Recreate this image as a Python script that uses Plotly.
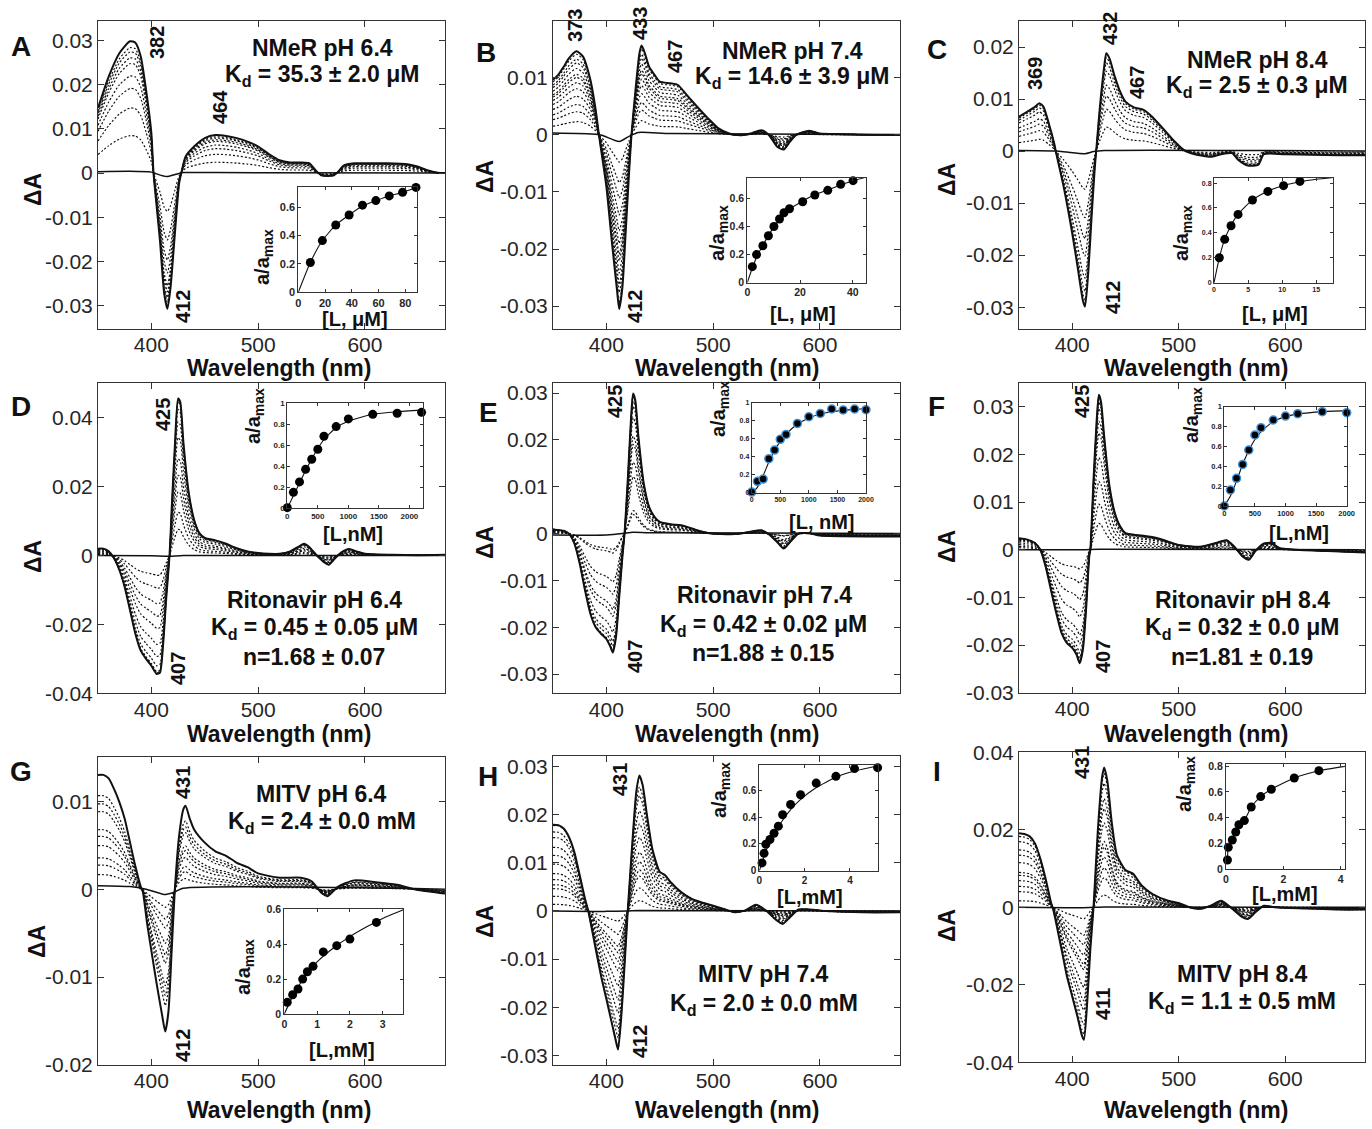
import plotly.graph_objects as go

W, H = 1372, 1129
FONT = "Liberation Sans, Arial, Helvetica, sans-serif"
INK = "#111111"

# ---------------- DATA ----------------
# Panel A: NMeR pH 6.4 (final difference spectrum)
A_wl = [350, 360, 370, 380, 385, 390, 395, 400, 402, 408, 412, 415, 418, 422, 426, 428, 432, 440, 450, 460,
        470, 480, 490, 500, 510, 520, 530, 540, 548, 555, 560, 570, 575, 580, 590, 600, 620, 640, 650, 660, 670, 675]
A_dA = [0.0147, 0.0218, 0.0271, 0.0298, 0.0295, 0.0264, 0.0188, 0.009, 0.0, -0.0152, -0.0273, -0.0307, -0.0258,
        -0.0137, -0.0023, 0.0, 0.0037, 0.006, 0.0079, 0.0086, 0.0084, 0.0079, 0.0071, 0.006, 0.0043, 0.0029,
        0.0024, 0.0024, 0.0022, 0.0003, -0.0006, -0.0006, 0.0003, 0.0017, 0.0022, 0.0022, 0.0022, 0.002,
        0.0014, 0.0005, 0.0, 0.0]
A_base_wl = [350, 380, 400, 405, 414, 424, 430, 460, 675]
A_base = [0.0003, 0.0004, 0.0002, -0.0002, -0.0008, -0.0002, 0.0001, 0.0001, 0.0]
A_L = [9, 18, 28, 38, 48, 58, 68, 78, 88]
A_frac = [0.21, 0.365, 0.475, 0.545, 0.615, 0.647, 0.68, 0.705, 0.74]
A_fit_L = [0, 9, 18, 28, 38, 48, 58, 68, 78, 88]
A_fit = [0, 0.21, 0.365, 0.475, 0.545, 0.61, 0.647, 0.68, 0.705, 0.74]

# Panel B: NMeR pH 7.4
B_wl = [350, 355, 360, 365, 372, 378, 385, 390, 393, 400, 405, 410, 412, 415, 418, 421, 423.5, 427, 431, 433,
        436, 440, 445, 450, 460, 467, 475, 485, 495, 505, 515, 525, 535, 545, 552, 560, 566, 572, 578, 590,
        600, 620, 650, 675]
B_dA = [0.0096, 0.0105, 0.0119, 0.0134, 0.0146, 0.0137, 0.0096, 0.0043, 0.0, -0.0091, -0.0185, -0.0273,
        -0.0305, -0.0267, -0.0173, -0.0074, 0.0, 0.0073, 0.0143, 0.0156, 0.0143, 0.0119, 0.0105, 0.0093,
        0.009, 0.0087, 0.007, 0.0049, 0.0029, 0.0011, 0.0002, -0.0001, 0.0002, 0.0008, 0.0, -0.0021,
        -0.0026, -0.0012, 0.0, 0.0007, 0.0002, 0.0001, 0.0, 0.0]
B_base_wl = [350, 390, 396, 412, 422, 430, 460, 675]
B_base = [0.0003, 0.0001, -0.0001, -0.0012, -0.0002, 0.0004, 0.0002, 0.0]
B_L = [1.9, 3.5, 5.9, 8, 10.1, 12.2, 13.9, 16, 21, 25.6, 30.5, 35.4, 40.1]
B_frac = [0.114, 0.20, 0.263, 0.334, 0.40, 0.453, 0.498, 0.526, 0.576, 0.624, 0.657, 0.70, 0.726]
B_fit_L = [0, 2, 4, 6, 8, 10, 12, 14, 16, 21, 25.5, 30.5, 35.4, 40, 45]
B_fit = [0, 0.11, 0.2, 0.27, 0.335, 0.395, 0.445, 0.49, 0.525, 0.58, 0.625, 0.66, 0.695, 0.725, 0.75]

# Panel C: NMeR pH 8.4
C_wl = [350, 358, 365, 369, 373, 378, 383, 384.5, 392, 400, 405, 410, 412, 415, 418, 421, 422.5, 426, 430, 432,
        435, 440, 445, 450, 458, 467, 475, 485, 495, 505, 515, 530, 540, 550, 556, 565, 575, 580, 600, 650, 675]
C_dA = [0.0066, 0.0076, 0.0085, 0.0092, 0.0085, 0.0053, 0.0015, 0.0, -0.0069, -0.0158, -0.0222, -0.0287,
        -0.0299, -0.0235, -0.0133, -0.0037, 0.0, 0.0085, 0.0162, 0.0188, 0.0178, 0.0143, 0.0114, 0.0095,
        0.0084, 0.0079, 0.0066, 0.0044, 0.0021, 0.0002, -0.0006, -0.0011, -0.0006, -0.0004, -0.0017,
        -0.0028, -0.0026, -0.0006, -0.0006, -0.0008, -0.0008]
C_base_wl = [350, 385, 395, 412, 420, 430, 675]
C_base = [0.0001, 0.0, -0.0002, -0.0005, -0.0001, 0.0001, 0.0]
C_L = [0.78, 1.57, 2.5, 3.53, 5.64, 7.9, 10.2, 12.6]
C_frac = [0.20, 0.348, 0.457, 0.548, 0.664, 0.733, 0.779, 0.813]
C_fit_L = [0, 0.78, 1.57, 2.5, 3.53, 5.64, 7.9, 10.2, 12.6, 15, 17.5]
C_fit = [0, 0.2, 0.35, 0.46, 0.55, 0.665, 0.735, 0.78, 0.81, 0.83, 0.845]

# Panel D: Ritonavir pH 6.4
D_wl = [350, 355, 360, 365, 370, 375, 380, 385, 390, 395, 400, 405, 408, 411, 414, 417, 419, 422, 425, 427,
        430, 435, 440, 445, 450, 460, 470, 480, 490, 500, 510, 520, 530, 538, 543, 548, 555, 562, 566, 572,
        578, 585, 592, 600, 625, 650, 675]
D_dA = [0.002, 0.002, 0.0012, -0.0008, -0.0042, -0.0091, -0.0159, -0.0227, -0.0276, -0.03, -0.032, -0.0344,
        -0.034, -0.0257, -0.012, 0.0, 0.0134, 0.0319, 0.0456, 0.0446, 0.0328, 0.0182, 0.0104, 0.0065, 0.0051,
        0.0044, 0.0034, 0.0021, 0.0012, 0.0007, 0.0005, 0.0005, 0.0012, 0.0026, 0.0034, 0.0024, 0.0, -0.002,
        -0.0027, -0.0008, 0.0009, 0.0019, 0.0012, 0.0005, 0.0002, 0.0001, 0.0002]
D_base_wl = [350, 400, 417, 430, 675]
D_base = [0.0, -0.0001, -0.0002, 0.0, 0.0]
D_L = [0, 100, 200, 300, 400, 500, 600, 800, 1000, 1400, 1800, 2200]
D_frac = [0.006, 0.152, 0.251, 0.371, 0.467, 0.562, 0.686, 0.778, 0.851, 0.895, 0.905, 0.914]
D_fit_L = [0, 100, 200, 300, 400, 500, 600, 800, 1000, 1400, 1800, 2200]
D_fit = [0, 0.12, 0.24, 0.36, 0.47, 0.57, 0.655, 0.77, 0.83, 0.895, 0.92, 0.935]

# Panel E: Ritonavir pH 7.4
E_wl = [350, 360, 365, 370, 375, 380, 385, 390, 395, 400, 404, 406, 409, 412, 415, 417, 420, 423, 425, 427,
        430, 435, 440, 445, 450, 460, 470, 480, 490, 500, 520, 535, 545, 552, 560, 566, 572, 580, 590, 600,
        650, 675]
E_dA = [0.0009, 0.0006, 0.0, -0.0021, -0.0064, -0.0121, -0.0171, -0.02, -0.0214, -0.0225, -0.0243, -0.0254,
        -0.0221, -0.0136, -0.005, 0.0, 0.0114, 0.0243, 0.0299, 0.0286, 0.0207, 0.0107, 0.0057, 0.0036,
        0.0025, 0.002, 0.0018, 0.0011, 0.0004, 0.0, -0.0001, 0.0004, 0.0007, -0.0001, -0.0018, -0.0032,
        -0.0018, 0.0, 0.0001, -0.0004, -0.0006, -0.0006]
E_base_wl = [350, 400, 415, 425, 440, 675]
E_base = [-0.0003, -0.0003, 0.0, 0.0003, 0.0002, 0.0]
E_L = [0, 100, 200, 300, 400, 500, 600, 800, 1000, 1200, 1400, 1600, 1800, 2000]
E_frac = [0.007, 0.126, 0.152, 0.378, 0.474, 0.593, 0.648, 0.77, 0.844, 0.881, 0.93, 0.919, 0.93, 0.922]
E_fit_L = [0, 100, 200, 300, 400, 500, 600, 800, 1000, 1200, 1400, 1600, 1800, 2000]
E_fit = [0, 0.06, 0.19, 0.34, 0.47, 0.57, 0.65, 0.76, 0.83, 0.875, 0.9, 0.915, 0.925, 0.935]

# Panel F: Ritonavir pH 8.4
F_wl = [350, 358, 365, 370, 375, 380, 385, 390, 395, 400, 404, 407, 410, 413, 416, 417, 420, 423, 425, 427,
        430, 435, 440, 445, 450, 460, 470, 480, 490, 500, 520, 535, 545, 552, 560, 566, 572, 580, 587, 595,
        610, 640, 675]
F_dA = [0.0024, 0.0021, 0.0014, 0.0, -0.0035, -0.0084, -0.0133, -0.0175, -0.0196, -0.0206, -0.022, -0.0238,
        -0.021, -0.0126, -0.0014, 0.0, 0.0147, 0.0273, 0.0325, 0.0311, 0.0238, 0.0133, 0.0077, 0.0049,
        0.0035, 0.0031, 0.0028, 0.0024, 0.0017, 0.001, 0.0006, 0.0014, 0.002, 0.0007, -0.0014, -0.0021,
        -0.0003, 0.0013, 0.0014, 0.0003, 0.0, -0.0003, -0.0006]
F_base_wl = [350, 410, 425, 675]
F_base = [0.0, 0.0, 0.0001, 0.0]
F_L = [0, 100, 200, 300, 400, 500, 600, 800, 1000, 1200, 1600, 2000]
F_frac = [0.0, 0.161, 0.279, 0.419, 0.564, 0.715, 0.789, 0.866, 0.906, 0.93, 0.95, 0.94]
F_fit_L = [0, 100, 200, 300, 400, 500, 600, 800, 1000, 1200, 1600, 2000]
F_fit = [0, 0.1, 0.25, 0.42, 0.56, 0.67, 0.75, 0.85, 0.9, 0.925, 0.95, 0.96]

# Panel G: MITV pH 6.4
G_wl = [350, 355, 360, 365, 370, 375, 380, 385, 390, 392, 396, 400, 405, 410, 413, 416, 419, 422, 426, 430,
        432, 436, 440, 450, 460, 470, 480, 490, 500, 520, 540, 550, 560, 565, 575, 590, 610, 630, 650, 675]
G_dA = [0.013, 0.013, 0.0126, 0.0114, 0.0099, 0.008, 0.0053, 0.0026, 0.0003, -0.0003, -0.0039, -0.007,
        -0.0108, -0.0143, -0.0162, -0.0139, -0.007, 0.0, 0.0061, 0.0091, 0.0095, 0.008, 0.0068, 0.0053,
        0.0043, 0.0038, 0.003, 0.0025, 0.0018, 0.0013, 0.0013, 0.0009, -0.0005, -0.0008, 0.0003, 0.001,
        0.0008, 0.0005, -0.0001, -0.0005]
G_base_wl = [350, 380, 395, 412, 420, 430, 675]
G_base = [0.0004, 0.0003, 0.0, -0.0006, -0.0004, 0.0001, 0.0]
G_L = [0.09, 0.255, 0.418, 0.56, 0.704, 0.878, 1.19, 1.6, 2.0, 2.81]
G_frac = [0.067, 0.111, 0.144, 0.201, 0.243, 0.274, 0.357, 0.393, 0.431, 0.527]
G_fit_L = [0, 0.25, 0.5, 0.75, 1.0, 1.5, 2.0, 2.5, 3.0, 3.63]
G_fit = [0, 0.1, 0.18, 0.245, 0.3, 0.38, 0.445, 0.5, 0.55, 0.6]

# Panel H: MITV pH 7.4
H_wl = [350, 355, 360, 365, 370, 375, 380, 383, 390, 395, 400, 405, 410, 411, 414, 417, 420, 425, 428, 431,
        434, 438, 443, 450, 455, 460, 470, 480, 490, 500, 510, 520, 530, 540, 550, 558, 565, 572, 580, 590,
        610, 640, 675]
H_dA = [0.0179, 0.0178, 0.0171, 0.0153, 0.0122, 0.0074, 0.0025, 0.0, -0.0079, -0.0135, -0.0183, -0.0232,
        -0.0281, -0.0288, -0.0218, -0.0114, 0.0, 0.0164, 0.0247, 0.0281, 0.0261, 0.0199, 0.0129, 0.0081,
        0.0074, 0.006, 0.0039, 0.0025, 0.0017, 0.0011, 0.0004, -0.0003, 0.0001, 0.0013, 0.0, -0.0017,
        -0.0027, -0.0013, 0.0003, 0.0003, -0.0001, -0.0003, -0.0003]
H_base_wl = [350, 400, 420, 430, 675]
H_base = [0.0, -0.0001, 0.0, 0.0001, 0.0]
H_L = [0.12, 0.21, 0.29, 0.47, 0.65, 0.84, 1.03, 1.38, 1.82, 2.51, 3.38, 4.2, 5.22]
H_frac = [0.058, 0.13, 0.198, 0.233, 0.28, 0.333, 0.418, 0.495, 0.568, 0.655, 0.705, 0.763, 0.77]
H_fit_L = [0, 0.12, 0.3, 0.5, 0.75, 1.0, 1.4, 1.8, 2.5, 3.4, 4.2, 5.25]
H_fit = [0, 0.06, 0.15, 0.23, 0.3, 0.37, 0.46, 0.53, 0.62, 0.7, 0.745, 0.785]

# Panel I: MITV pH 8.4
I_wl = [350, 355, 360, 365, 370, 375, 380, 382, 390, 395, 400, 405, 409, 411, 414, 417, 420, 424, 428, 430,
        433, 437, 442, 450, 457, 465, 475, 490, 500, 510, 520, 530, 540, 550, 558, 565, 572, 580, 590, 620,
        650, 675]
I_dA = [0.0191, 0.0189, 0.0183, 0.0165, 0.0126, 0.0074, 0.0013, -0.0004, -0.0109, -0.0178, -0.023, -0.0283,
        -0.033, -0.0342, -0.0248, -0.0109, 0.0, 0.0196, 0.0335, 0.0361, 0.0326, 0.0222, 0.0135, 0.0096,
        0.0087, 0.0057, 0.0035, 0.0017, 0.0011, 0.0, -0.0004, 0.0004, 0.0017, -0.0003, -0.0022, -0.003,
        -0.0013, 0.0004, 0.0, -0.0003, -0.0006, -0.0006]
I_base_wl = [350, 410, 430, 675]
I_base = [0.0, -0.0001, 0.0001, 0.0]
I_L = [0.05, 0.08, 0.22, 0.34, 0.45, 0.64, 0.88, 1.21, 1.58, 2.38, 3.24, 4.17]
I_frac = [0.07, 0.169, 0.226, 0.288, 0.345, 0.377, 0.483, 0.564, 0.621, 0.709, 0.766, 0.80]
I_fit_L = [0.05, 0.08, 0.22, 0.34, 0.45, 0.64, 0.88, 1.21, 1.58, 2.38, 3.24, 4.17]
I_fit = [0.07, 0.169, 0.226, 0.288, 0.345, 0.377, 0.483, 0.564, 0.621, 0.709, 0.766, 0.80]

# Tick values / labels
WL_TICKS = [400, 500, 600]
YT_A = [-0.03, -0.02, -0.01, 0, 0.01, 0.02, 0.03]
YT_B = [-0.03, -0.02, -0.01, 0, 0.01, 0.02]
YT_D = [-0.04, -0.02, 0, 0.02, 0.04]
YT_G = [-0.02, -0.01, 0, 0.01]

# ---------------- LAYOUT CONFIG (pixel positions) ----------------
PANELS = [
    dict(letter="A", lxy=(21, 47), wl=A_wl, dA=A_dA, bwl=A_base_wl, b=A_base, L=A_L, fr=A_frac, fL=A_fit_L, f=A_fit,
         mx=(98, 445), my=(21, 329), yr=[-0.0353, 0.0344], yt=YT_A,
         ix=(298.3, 417.3), iy=(186.7, 292.3), ixr=[0, 89], iyr=[0, 0.745], ixt=[0, 20, 40, 60, 80], iyt=[0, 0.2, 0.4, 0.6], itf=11,
         dA_xy=(33, 190), ylab_xy=(264, 257), xlab="[L, μM]", xlab_xy=(355, 319), edge=None,
         info=[("NMeR pH 6.4", 322, 48), ("K<sub>d</sub> = 35.3 ± 2.0 μM", 322, 75)],
         peaks=[("382", 157, 43), ("412", 183, 307), ("464", 220, 107)], wlab_y=368),
    dict(letter="B", lxy=(486, 52), wl=B_wl, dA=B_dA, bwl=B_base_wl, b=B_base, L=B_L, fr=B_frac, fL=B_fit_L, f=B_fit,
         mx=(553, 900), my=(21, 329), yr=[-0.034, 0.0199], yt=YT_B,
         ix=(747.3, 866), iy=(177.7, 282.7), ixr=[0, 45], iyr=[0, 0.747], ixt=[0, 20, 40], iyt=[0, 0.2, 0.4, 0.6], itf=10.5,
         dA_xy=(485, 177), ylab_xy=(718, 233), xlab="[L, μM]", xlab_xy=(803, 314), edge=None,
         info=[("NMeR pH 7.4", 792, 51), ("K<sub>d</sub> = 14.6 ± 3.9 μM", 792, 78)],
         peaks=[("373", 575, 26), ("433", 640, 24), ("467", 675, 57), ("412", 635, 307)], wlab_y=368),
    dict(letter="C", lxy=(937, 50), wl=C_wl, dA=C_dA, bwl=C_base_wl, b=C_base, L=C_L, fr=C_frac, fL=C_fit_L, f=C_fit,
         mx=(1019, 1365), my=(21, 329), yr=[-0.0342, 0.025], yt=YT_B,
         ix=(1214, 1333.3), iy=(177.7, 282.7), ixr=[0, 17.5], iyr=[0, 0.843], ixt=[0, 5, 10, 15], iyt=[0, 0.2, 0.4, 0.6, 0.8], itf=7,
         dA_xy=(947, 180), ylab_xy=(1182, 233), xlab="[L, μM]", xlab_xy=(1275, 314), edge=None,
         info=[("NMeR pH 8.4", 1257, 60), ("K<sub>d</sub> = 2.5 ± 0.3 μM", 1257, 87)],
         peaks=[("369", 1035, 74), ("432", 1110, 29), ("467", 1137, 83), ("412", 1113, 298)], wlab_y=368),
    dict(letter="D", lxy=(21, 407), wl=D_wl, dA=D_dA, bwl=D_base_wl, b=D_base, L=D_L, fr=D_frac, fL=D_fit_L, f=D_fit,
         mx=(98, 445), my=(383.3, 693.3), yr=[-0.04, 0.05], yt=YT_D,
         ix=(287.3, 422.7), iy=(403.3, 508.3), ixr=[0, 2218], iyr=[0, 1], ixt=[0, 500, 1000, 1500, 2000], iyt=[0, 0.2, 0.4, 0.6, 0.8, 1], itf=8,
         dA_xy=(33, 557), ylab_xy=(255, 416), xlab="[L,nM]", xlab_xy=(353, 534), edge=None,
         info=[("Ritonavir pH 6.4", 314, 600), ("K<sub>d</sub> = 0.45 ± 0.05 μM", 314, 628), ("n=1.68 ± 0.07", 314, 657)],
         peaks=[("425", 163, 415), ("407", 178, 669)], wlab_y=734),
    dict(letter="E", lxy=(488, 412), wl=E_wl, dA=E_dA, bwl=E_base_wl, b=E_base, L=E_L, fr=E_frac, fL=E_fit_L, f=E_fit,
         mx=(553, 900), my=(383.3, 693.3), yr=[-0.0341, 0.0321], yt=YT_A,
         ix=(751.7, 866), iy=(402.7, 492.7), ixr=[0, 2000], iyr=[0, 1], ixt=[0, 500, 1000, 1500, 2000], iyt=[0, 0.2, 0.4, 0.6, 0.8, 1], itf=7,
         dA_xy=(485, 543), ylab_xy=(719, 409), xlab="[L, nM]", xlab_xy=(822, 522), edge="#3f8fd6",
         info=[("Ritonavir pH 7.4", 764, 595), ("K<sub>d</sub> = 0.42 ± 0.02 μM", 763, 625), ("n=1.88 ± 0.15", 763, 653)],
         peaks=[("425", 615, 402), ("407", 635, 657)], wlab_y=734),
    dict(letter="F", lxy=(937, 407), wl=F_wl, dA=F_dA, bwl=F_base_wl, b=F_base, L=F_L, fr=F_frac, fL=F_fit_L, f=F_fit,
         mx=(1019, 1365), my=(383.3, 692.7), yr=[-0.03, 0.0349], yt=YT_A,
         ix=(1224.3, 1346.7), iy=(406.7, 506), ixr=[0, 2000], iyr=[0, 1], ixt=[0, 500, 1000, 1500, 2000], iyt=[0, 0.2, 0.4, 0.6, 0.8, 1], itf=7.5,
         dA_xy=(947, 547), ylab_xy=(1192, 415), xlab="[L,nM]", xlab_xy=(1299, 533), edge="#3f8fd6",
         info=[("Ritonavir pH 8.4", 1242, 600), ("K<sub>d</sub> = 0.32 ± 0.0 μM", 1242, 628), ("n=1.81 ± 0.19", 1242, 657)],
         peaks=[("425", 1082, 402), ("407", 1103, 657)], wlab_y=734),
    dict(letter="G", lxy=(21, 771), wl=G_wl, dA=G_dA, bwl=G_base_wl, b=G_base, L=G_L, fr=G_frac, fL=G_fit_L, f=G_fit,
         mx=(98, 445), my=(757.3, 1065), yr=[-0.02, 0.015], yt=YT_G,
         ix=(284.3, 403.3), iy=(909, 1014), ixr=[0, 3.63], iyr=[0, 0.604], ixt=[0, 1, 2, 3], iyt=[0, 0.2, 0.4, 0.6], itf=10.5,
         dA_xy=(37, 942), ylab_xy=(244, 967), xlab="[L,mM]", xlab_xy=(342, 1050), edge=None,
         info=[("MITV pH 6.4", 321, 794), ("K<sub>d</sub> = 2.4 ± 0.0 mM", 322, 822)],
         peaks=[("431", 183, 783), ("412", 183, 1046)], wlab_y=1110),
    dict(letter="H", lxy=(488, 776), wl=H_wl, dA=H_dA, bwl=H_base_wl, b=H_base, L=H_L, fr=H_frac, fL=H_fit_L, f=H_fit,
         mx=(553, 900), my=(756.3, 1065), yr=[-0.032, 0.0321], yt=YT_A,
         ix=(759.3, 878.3), iy=(765, 870.7), ixr=[0, 5.25], iyr=[0, 0.79], ixt=[0, 2, 4], iyt=[0, 0.2, 0.4, 0.6], itf=10,
         dA_xy=(485, 922), ylab_xy=(720, 790), xlab="[L,mM]", xlab_xy=(810, 897), edge=None,
         info=[("MITV pH 7.4", 763, 974), ("K<sub>d</sub> = 2.0 ± 0.0 mM", 764, 1004)],
         peaks=[("431", 620, 780), ("412", 640, 1042)], wlab_y=1110),
    dict(letter="I", lxy=(937, 771), wl=I_wl, dA=I_dA, bwl=I_base_wl, b=I_base, L=I_L, fr=I_frac, fL=I_fit_L, f=I_fit,
         mx=(1019, 1365), my=(752.3, 1062.3), yr=[-0.04, 0.04], yt=YT_D,
         ix=(1226, 1345), iy=(764, 869), ixr=[0, 4.15], iyr=[0, 0.818], ixt=[0, 2, 4], iyt=[0, 0.2, 0.4, 0.6, 0.8], itf=10.5,
         dA_xy=(947, 926), ylab_xy=(1185, 784), xlab="[L,mM]", xlab_xy=(1285, 894), edge=None,
         info=[("MITV pH 8.4", 1242, 974), ("K<sub>d</sub> = 1.1 ± 0.5 mM", 1242, 1002)],
         peaks=[("431", 1082, 763), ("411", 1103, 1004)], wlab_y=1110),
]

WLAB_X = {98: 279, 553: 727, 1019: 1196}


def fmt(v):
    if v == 0:
        return "0"
    return "%g" % v


def px(x):
    return x / W


def py(y):
    return 1 - y / H


fig = go.Figure()
layout = dict(width=W, height=H, autosize=False, margin=dict(l=0, r=0, t=0, b=0, pad=0, autoexpand=False),
              paper_bgcolor="white", plot_bgcolor="white", showlegend=False, font=dict(family=FONT, color=INK))
annotations = []


def ann(text, x, y, size, angle=0, bold=True, color=INK):
    annotations.append(dict(text=("<b>%s</b>" % text) if bold else text, x=px(x), y=py(y), xref="paper",
                            yref="paper", showarrow=False, textangle=angle, xanchor="center", yanchor="middle",
                            font=dict(family=FONT, size=size, color=color)))


for i, p in enumerate(PANELS):
    m, n = 2 * i + 1, 2 * i + 2
    xm = "x" if m == 1 else "x%d" % m
    ym = "y" if m == 1 else "y%d" % m
    xn, yn = "x%d" % n, "y%d" % n
    kxm = "xaxis" if m == 1 else "xaxis%d" % m
    kym = "yaxis" if m == 1 else "yaxis%d" % m

    # main axes
    layout[kxm] = dict(domain=[px(p["mx"][0]), px(p["mx"][1])], anchor=ym, range=[350, 675],
                       tickvals=WL_TICKS, ticktext=[str(t) for t in WL_TICKS], ticks="inside", ticklen=6,
                       tickcolor="#333333", mirror="allticks", showline=True, linecolor="#333333", linewidth=1,
                       showgrid=False, zeroline=False, automargin=False, ticklabelstandoff=-3,
                       tickfont=dict(family=FONT, size=21, color="#262626"))
    layout[kym] = dict(domain=[py(p["my"][1]), py(p["my"][0])], anchor=xm, range=p["yr"],
                       tickvals=p["yt"], ticktext=[fmt(t) for t in p["yt"]], ticks="inside", ticklen=6,
                       tickcolor="#333333", mirror="allticks", showline=True, linecolor="#333333", linewidth=1,
                       showgrid=False, zeroline=False, automargin=False,
                       tickfont=dict(family=FONT, size=21, color="#262626"))
    # inset axes
    layout["xaxis%d" % n] = dict(domain=[px(p["ix"][0]), px(p["ix"][1])], anchor=yn, range=p["ixr"],
                                 tickvals=p["ixt"], ticktext=[fmt(t) for t in p["ixt"]], ticks="inside", ticklen=3,
                                 tickcolor="#333333", mirror="allticks", showline=True, linecolor="#333333",
                                 linewidth=1, showgrid=False, zeroline=False, automargin=False,
                                 tickfont=dict(family=FONT, size=p["itf"], color="#262626", weight="bold"))
    layout["yaxis%d" % n] = dict(domain=[py(p["iy"][1]), py(p["iy"][0])], anchor=xn, range=p["iyr"],
                                 tickvals=p["iyt"], ticktext=[fmt(t) for t in p["iyt"]], ticks="inside", ticklen=3,
                                 tickcolor="#333333", mirror="allticks", showline=True, linecolor="#333333",
                                 linewidth=1, showgrid=False, zeroline=False, automargin=False,
                                 tickfont=dict(family=FONT, size=p["itf"], color="#262626", weight="bold"))

    # spectra: baseline, titration family (scaled by inset saturation), final
    fig.add_trace(go.Scatter(x=p["bwl"], y=p["b"], mode="lines", xaxis=xm, yaxis=ym,
                             line=dict(color=INK, width=1.5, shape="spline", smoothing=0.6)))
    fmax = max(p["fr"])
    for v in p["fr"]:
        if v < 0.03 or v == fmax:
            continue
        s = v / fmax
        fig.add_trace(go.Scatter(x=p["wl"], y=[s * d for d in p["dA"]], mode="lines", xaxis=xm, yaxis=ym,
                                 line=dict(color=INK, width=1.2, dash="2px,2px", shape="spline", smoothing=0.6)))
    fig.add_trace(go.Scatter(x=p["wl"], y=p["dA"], mode="lines", xaxis=xm, yaxis=ym,
                             line=dict(color=INK, width=2, shape="spline", smoothing=0.6)))

    # inset: fit line and points
    fig.add_trace(go.Scatter(x=p["fL"], y=p["f"], mode="lines", xaxis=xn, yaxis=yn, cliponaxis=False,
                             line=dict(color=INK, width=1.1, shape="spline", smoothing=0.5)))
    mk = dict(color="black", size=9)
    if p["edge"]:
        mk["line"] = dict(color=p["edge"], width=1.5)
        mk["size"] = 8
    fig.add_trace(go.Scatter(x=p["L"], y=p["fr"], mode="markers", xaxis=xn, yaxis=yn, cliponaxis=False,
                             marker=mk))

    # text
    ann(p["letter"], p["lxy"][0], p["lxy"][1], 28)
    ann("ΔA", p["dA_xy"][0], p["dA_xy"][1], 23, angle=-90)
    ann("Wavelength (nm)", WLAB_X[p["mx"][0]], p["wlab_y"], 23)
    ann("a/a<sub>max</sub>", p["ylab_xy"][0], p["ylab_xy"][1], 20, angle=-90)
    ann(p["xlab"], p["xlab_xy"][0], p["xlab_xy"][1], 20)
    for t, x, y in p["info"]:
        ann(t, x, y, 23)
    for t, x, y in p["peaks"]:
        ann(t, x, y, 20, angle=-90)

layout["annotations"] = annotations
fig.update_layout(**layout)
fig.write_html("out.html", config={"responsive": False, "displayModeBar": False},
               post_script="document.body.style.margin='0';document.body.style.overflow='hidden';")
